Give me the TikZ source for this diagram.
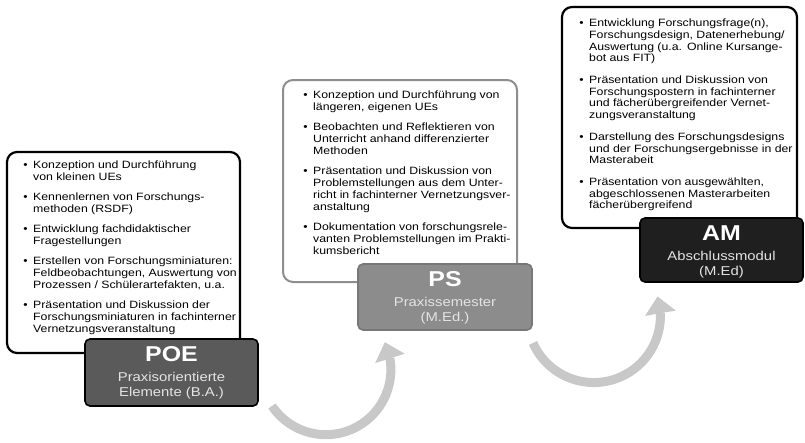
\documentclass[tikz,border=0pt]{standalone}
\usepackage{fontspec}
\setmainfont[FakeStretch=1.16]{Liberation Sans}
\usetikzlibrary{arrows.meta,bending}

\definecolor{arrowgray}{HTML}{C8C8C8}
\definecolor{poefill}{HTML}{5A5A5A}
\definecolor{psfill}{HTML}{8C8C8C}
\definecolor{psedge}{HTML}{777777}
\definecolor{amfill}{HTML}{1F1F1F}
\definecolor{subtext}{HTML}{E4E4E4}
\definecolor{psframe}{HTML}{8E8E8E}

% bullet list used inside the three description frames
% #1 = baselineskip, #2 = extra gap between items
\newenvironment{stagelist}[2]{%
  \fontsize{10.6pt}{#1}\selectfont
  \begin{list}{\textbullet}{%
    \setlength\leftmargin{14pt}\setlength\labelsep{5.5pt}%
    \setlength\labelwidth{8pt}\setlength\itemsep{#2}%
    \setlength\parsep{0pt}\setlength\topsep{0pt}\setlength\partopsep{0pt}}}
  {\end{list}}

\tikzset{
  frame/.style={line width=2.2pt, rounded corners=10pt, fill=white},
  listtext/.style={anchor=north west, inner sep=0pt, align=left, text width=260pt},
  stagebox/.style={draw, line width=1.6pt, rounded corners=5pt, inner sep=0pt},
  headtxt/.style={anchor=base, inner sep=0pt, text=white,
    font=\fontsize{21.5pt}{24pt}\selectfont\bfseries},
  subtxt/.style={anchor=base, inner sep=0pt, text=subtext,
    font=\fontsize{12.8pt}{15pt}\selectfont},
  cyclearrow/.style={draw=arrowgray, line width=9pt,
    -{Triangle[flex, line width=0pt, length=17pt, width=31pt]}}
}

\begin{document}
\begin{tikzpicture}[x=1pt, y=-1pt]
\useasboundingbox (0,0) rectangle (805,442);

% ---------- description frames ----------
\draw[frame, draw=black] (7,152) rectangle (240,353);
\draw[frame, draw=psframe, line width=2pt] (283,80) rectangle (517,282);
\draw[frame, draw=black] (562,7) rectangle (797,228);

\node[listtext] (poeText) at (19,156) {%
\begin{stagelist}{12pt}{8pt}
\item Konzeption und Durchführung\\von kleinen UEs
\item Kennenlernen von Forschungs-\\methoden (RSDF)
\item Entwicklung fachdidaktischer\\Fragestellungen
\item Erstellen von Forschungsminiaturen:\\Feldbeobachtungen, Auswertung von\\Prozessen / Schülerartefakten, u.a.
\item Präsentation und Diskussion der\\Forschungsminiaturen in fachinterner\\Vernetzungsveranstaltung
\end{stagelist}};

\node[listtext] (psText) at (299,86) {%
\begin{stagelist}{12pt}{8pt}
\item Konzeption und Durchführung von\\längeren, eigenen UEs
\item Beobachten und Reflektieren von\\Unterricht anhand differenzierter\\Methoden
\item Präsentation und Diskussion von\\Problemstellungen aus dem Unter-\\richt in fachinterner Vernetzungsver-\\anstaltung
\item Dokumentation von forschungsrele-\\vanten Problemstellungen im Prakti-\\kumsbericht
\end{stagelist}};

\node[listtext] (amText) at (575,15) {%
\begin{stagelist}{11.6pt}{10.4pt}
\item Entwicklung Forschungsfrage(n),\\Forschungsdesign, Datenerhebung/\\Auswertung (u.a. Online Kursange-\\bot aus FIT)
\item Präsentation und Diskussion von\\Forschungspostern in fachinterner\\und fächerübergreifender Vernet-\\zungsveranstaltung
\item Darstellung des Forschungsdesigns\\und der Forschungsergebnisse in der\\Masterabeit
\item Präsentation von ausgewählten,\\abgeschlossenen Masterarbeiten\\fächerübergreifend
\end{stagelist}};

% ---------- stage boxes ----------
\node[stagebox, draw=black, fill=poefill, minimum width=173pt, minimum height=67pt] (poe) at (171.5,372.5) {};
\node[headtxt] (poeHead) at (171.5,361) {POE};
\node[subtxt] (poeSubA) at (171.5,381) {Praxisorientierte};
\node[subtxt] (poeSubB) at (171.5,396.5) {Elemente (B.A.)};

\node[stagebox, draw=psedge, fill=psfill, minimum width=174pt, minimum height=66pt] (ps) at (445,297) {};
\node[headtxt] (psHead) at (445,286) {PS};
\node[subtxt] (psSubA) at (445,306) {Praxissemester};
\node[subtxt] (psSubB) at (445,321.5) {(M.Ed.)};

\node[stagebox, draw=black, fill=amfill, minimum width=163pt, minimum height=64pt] (am) at (721.5,250) {};
\node[headtxt] (amHead) at (721.5,240) {AM};
\node[subtxt] (amSubA) at (721.5,260) {Abschlussmodul};
\node[subtxt] (amSubB) at (721.5,275.5) {(M.Ed)};

% ---------- cycle arrows between the stages ----------
\coordinate (cycA) at (272,406);
\coordinate (cycB) at (533,343);
\draw[cyclearrow] (cycA) arc[start angle=214, end angle=385, radius=65pt];
\draw[cyclearrow] (cycB) arc[start angle=204, end angle=377, radius=66.6pt];
\end{tikzpicture}
\end{document}
